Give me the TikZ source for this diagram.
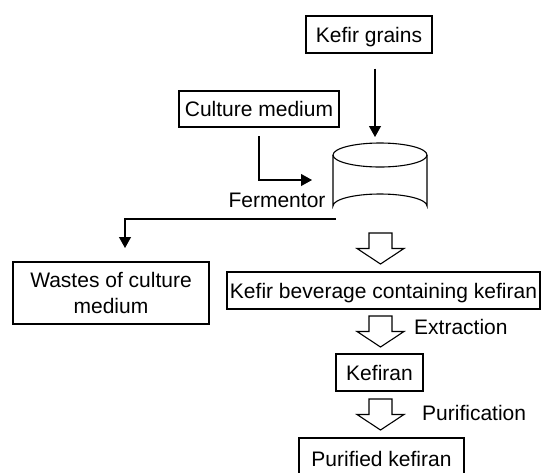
\documentclass[tikz,border=0pt]{standalone}
\usepackage{fontspec}
\setmainfont{Liberation Sans}
\usetikzlibrary{arrows.meta}
\begin{document}
\begin{tikzpicture}[x=1pt,y=-1pt,
  every node/.style={font=\fontsize{21}{26}\selectfont},
  framed/.style={draw,line width=1.1pt,inner sep=0pt,align=center},
  box/.style={framed,text height=15pt,text depth=0pt},
  lbl/.style={inner sep=0pt,text height=15pt,text depth=0pt},
  conn/.style={line width=1.1pt,-{Triangle[width=12pt,length=11pt]}},
  hollowarrow/.pic={\draw[line width=1.1pt,fill=white,line join=miter]
      (-11.5,0) -- (11.5,0) -- (11.5,15.5) -- (23.5,15.5) -- (0,31) -- (-23.5,15.5) -- (-11.5,15.5) -- cycle;}
]
\useasboundingbox (0,0) rectangle (541,472);

% boxes
\node[box,minimum width=126pt,minimum height=37pt] (grains) at (369,34.5) {Kefir grains};
\node[box,minimum width=160pt,minimum height=36pt] (culture) at (259,109) {Culture medium};
\node[framed,minimum width=196pt,minimum height=62pt] (wastes) at (111,293) {Wastes of culture\\medium};
\node[box,minimum width=313pt,minimum height=37pt] (bev) at (383.5,290.5) {Kefir beverage containing kefiran};
\node[box,minimum width=87pt,minimum height=37pt] (kefiran) at (379.5,372.5) {Kefiran};
\node[box,minimum width=165pt,minimum height=41pt] (pure) at (381.5,458.5) {Purified kefiran};

% fermentor (cylinder)
\coordinate (ferm) at (380,180);
\draw[line width=1.1pt] (333,155) -- (333,206) arc[start angle=180,end angle=360,x radius=47,y radius=12] -- (427,155);
\draw[line width=1.1pt] (380,155) ellipse[x radius=47,y radius=12];
\node[lbl] (fermlbl) at (277,200) {Fermentor};

% labels
\node[lbl,anchor=west] (extr) at (414,327) {Extraction};
\node[lbl,anchor=west] (purif) at (422,413) {Purification};

% connectors
\coordinate (gtip) at (375,137);
\draw[conn] (grains.south -| gtip) ++(0,15) -- (gtip);
\coordinate (ctip) at (312,180);
\coordinate (cstart) at (259,136);
\draw[conn] (cstart) |- (ctip);
\coordinate (wstart) at (336,219);
\coordinate (wtip) at (125,248);
\draw[conn] (wstart) -| (wtip);

% hollow arrows
\coordinate (h1) at (380.5,233);
\coordinate (h2) at (380.5,316);
\coordinate (h3) at (380.5,399);
\pic at (h1) {hollowarrow};
\pic at (h2) {hollowarrow};
\pic at (h3) {hollowarrow};
\end{tikzpicture}
\end{document}
